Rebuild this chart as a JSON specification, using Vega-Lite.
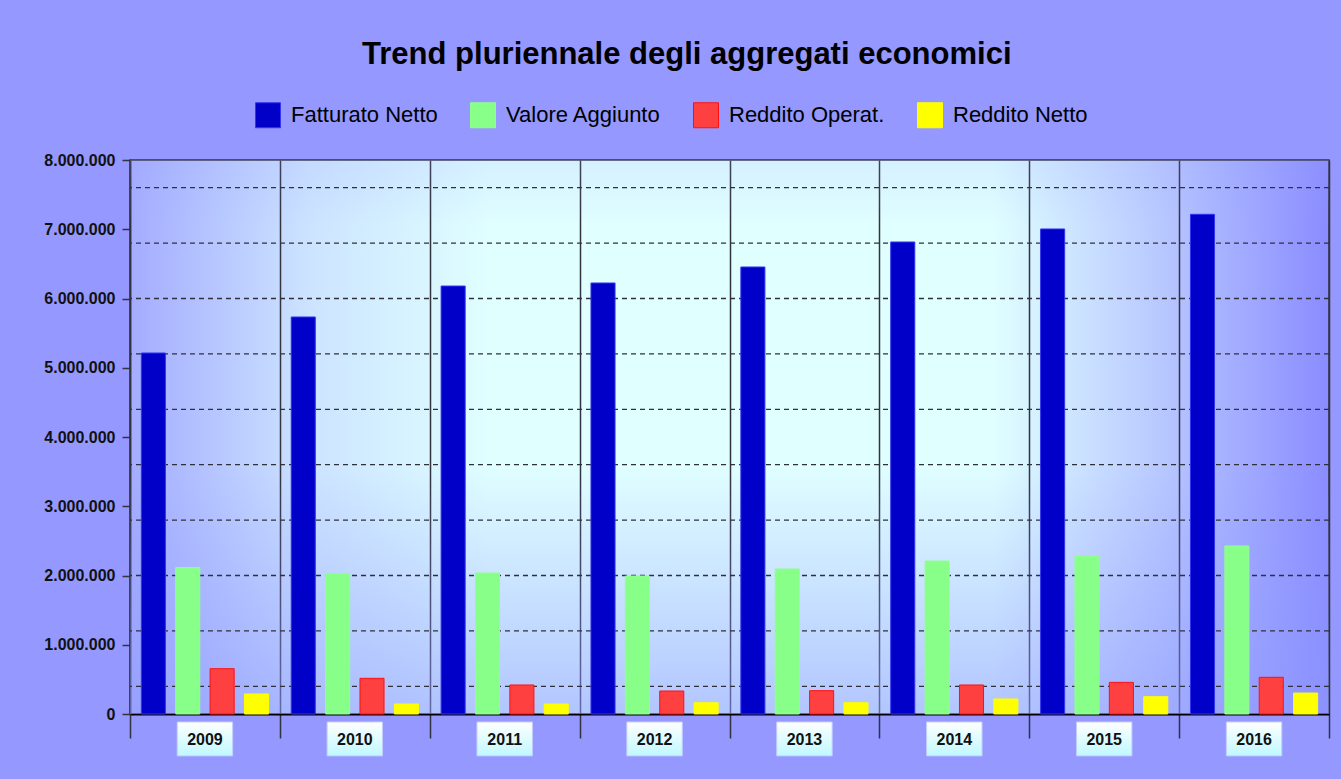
{
  "$schema": "https://vega.github.io/schema/vega-lite/v6.json",
  "width": 1199,
  "height": 554,
  "autosize": {"type": "none"},
  "padding": {"left": 130, "top": 160, "right": 12, "bottom": 65},
  "background": "#9498ff",
  "title": {
    "text": "Trend pluriennale degli aggregati economici",
    "anchor": "middle",
    "frame": "bounds",
    "font": "Liberation Sans",
    "fontSize": 31,
    "fontWeight": "bold",
    "color": "#000000",
    "offset": 31
  },
  "data": {
    "values": [
      {"year": "2009", "series": "Fatturato Netto", "value": 5213000},
      {"year": "2009", "series": "Valore Aggiunto", "value": 2115000},
      {"year": "2009", "series": "Reddito Operat.", "value": 654000},
      {"year": "2009", "series": "Reddito Netto", "value": 289000},
      {"year": "2010", "series": "Fatturato Netto", "value": 5733000},
      {"year": "2010", "series": "Valore Aggiunto", "value": 2030000},
      {"year": "2010", "series": "Reddito Operat.", "value": 515000},
      {"year": "2010", "series": "Reddito Netto", "value": 144000},
      {"year": "2011", "series": "Fatturato Netto", "value": 6180000},
      {"year": "2011", "series": "Valore Aggiunto", "value": 2036000},
      {"year": "2011", "series": "Reddito Operat.", "value": 419000},
      {"year": "2011", "series": "Reddito Netto", "value": 144000},
      {"year": "2012", "series": "Fatturato Netto", "value": 6224000},
      {"year": "2012", "series": "Valore Aggiunto", "value": 1993000},
      {"year": "2012", "series": "Reddito Operat.", "value": 332000},
      {"year": "2012", "series": "Reddito Netto", "value": 163000},
      {"year": "2013", "series": "Fatturato Netto", "value": 6455000},
      {"year": "2013", "series": "Valore Aggiunto", "value": 2094000},
      {"year": "2013", "series": "Reddito Operat.", "value": 337000},
      {"year": "2013", "series": "Reddito Netto", "value": 163000},
      {"year": "2014", "series": "Fatturato Netto", "value": 6816000},
      {"year": "2014", "series": "Valore Aggiunto", "value": 2209000},
      {"year": "2014", "series": "Reddito Operat.", "value": 419000},
      {"year": "2014", "series": "Reddito Netto", "value": 217000},
      {"year": "2015", "series": "Fatturato Netto", "value": 7004000},
      {"year": "2015", "series": "Valore Aggiunto", "value": 2282000},
      {"year": "2015", "series": "Reddito Operat.", "value": 457000},
      {"year": "2015", "series": "Reddito Netto", "value": 250000},
      {"year": "2016", "series": "Fatturato Netto", "value": 7216000},
      {"year": "2016", "series": "Valore Aggiunto", "value": 2426000},
      {"year": "2016", "series": "Reddito Operat.", "value": 530000},
      {"year": "2016", "series": "Reddito Netto", "value": 303000}
    ]
  },
  "layer": [
    {
      "data": {"values": [{"shade": "bottom"}]},
      "mark": {
        "type": "rect",
        "fill": {
          "gradient": "linear",
          "x1": 0, "y1": 0, "x2": 0, "y2": 1,
          "stops": [
            {"offset": 0, "color": "rgba(150,160,255,0.15)"},
            {"offset": 0.12, "color": "rgba(150,160,255,0)"},
            {"offset": 0.55, "color": "rgba(140,150,255,0)"},
            {"offset": 1, "color": "rgba(140,150,255,0.55)"}
          ]
        }
      },
      "encoding": {}
    },
    {
      "data": {
        "values": [
          {"g": 400000}, {"g": 1200000}, {"g": 2000000}, {"g": 2800000}, {"g": 3600000},
          {"g": 4400000}, {"g": 5200000}, {"g": 6000000}, {"g": 6800000}, {"g": 7600000}
        ]
      },
      "mark": {"type": "rule", "color": "#303038", "strokeWidth": 1.3, "strokeDash": [5, 4]},
      "encoding": {
        "y": {"field": "g", "type": "quantitative", "title": null}
      }
    },
    {
      "mark": {"type": "bar", "strokeWidth": 1},
      "encoding": {
        "x": {
          "field": "year",
          "type": "nominal",
          "scale": {"paddingInner": 0, "paddingOuter": 0},
          "axis": {"title": null, "labels": false}
        },
        "xOffset": {
          "field": "series",
          "type": "nominal",
          "sort": ["Fatturato Netto", "Valore Aggiunto", "Reddito Operat.", "Reddito Netto"],
          "scale": {"paddingInner": 0.3, "paddingOuter": 0.33}
        },
        "y": {
          "field": "value",
          "type": "quantitative",
          "scale": {"domain": [0, 8000000], "nice": false, "zero": true},
          "axis": {
            "title": null,
            "values": [0, 1000000, 2000000, 3000000, 4000000, 5000000, 6000000, 7000000, 8000000],
            "format": ",.0f"
          }
        },
        "color": {
          "field": "series",
          "type": "nominal",
          "sort": ["Fatturato Netto", "Valore Aggiunto", "Reddito Operat.", "Reddito Netto"],
          "scale": {
            "domain": ["Fatturato Netto", "Valore Aggiunto", "Reddito Operat.", "Reddito Netto"],
            "range": ["#0000c8", "#88ff88", "#ff4040", "#ffff00"]
          },
          "legend": {"title": null}
        },
        "stroke": {
          "field": "series",
          "type": "nominal",
          "scale": {
            "domain": ["Fatturato Netto", "Valore Aggiunto", "Reddito Operat.", "Reddito Netto"],
            "range": ["#3434f0", "#90ff90", "#ff1010", "#ffff00"]
          },
          "legend": null
        }
      }
    },
    {
      "transform": [{"filter": "datum.series === 'Fatturato Netto'"}],
      "mark": {
        "type": "rect",
        "width": {"band": 0.37},
        "clip": false,
        "fill": {
          "gradient": "linear",
          "x1": 0, "y1": 0, "x2": 0, "y2": 1,
          "stops": [
            {"offset": 0, "color": "#ffffff"},
            {"offset": 1, "color": "#bff8ff"}
          ]
        },
        "stroke": "#c4ccff",
        "strokeWidth": 1
      },
      "encoding": {
        "x": {"field": "year", "type": "nominal"},
        "y": {"datum": -115000},
        "y2": {"datum": -605000}
      }
    },
    {
      "transform": [{"filter": "datum.series === 'Fatturato Netto'"}],
      "mark": {
        "type": "text",
        "clip": false,
        "font": "Liberation Sans",
        "fontSize": 16,
        "fontWeight": "bold",
        "color": "#111111",
        "baseline": "middle",
        "align": "center"
      },
      "encoding": {
        "x": {"field": "year", "type": "nominal"},
        "y": {"datum": -372000},
        "text": {"field": "year"}
      }
    }
  ],
  "config": {
    "locale": {
      "number": {"decimal": ",", "thousands": ".", "grouping": [3], "currency": ["€", ""]}
    },
    "view": {
      "stroke": "#333340",
      "strokeWidth": 1.5,
      "fill": {
        "gradient": "linear",
        "x1": 0, "y1": 0, "x2": 1, "y2": 0,
        "stops": [
          {"offset": 0, "color": "#a4acff"},
          {"offset": 0.15, "color": "#cce4ff"},
          {"offset": 0.3, "color": "#e0ffff"},
          {"offset": 0.72, "color": "#e0ffff"},
          {"offset": 0.86, "color": "#b8c8ff"},
          {"offset": 1, "color": "#8a8cff"}
        ]
      }
    },
    "axisY": {
      "labelFont": "Liberation Sans",
      "labelFontSize": 16,
      "labelFontWeight": "bold",
      "labelColor": "#111111",
      "tickSize": 8,
      "tickColor": "#333340",
      "tickWidth": 1.5,
      "domainColor": "#333340",
      "domainWidth": 1.5,
      "grid": false,
      "labelPadding": 7
    },
    "axisX": {
      "labelAngle": 0,
      "tickSize": 24,
      "tickBand": "extent",
      "tickColor": "#333340",
      "tickWidth": 1.5,
      "grid": true,
      "gridColor": "#333340",
      "gridWidth": 1.5,
      "domainColor": "#000000",
      "domainWidth": 2
    },
    "legend": {
      "orient": "none",
      "legendX": 125,
      "legendY": -58,
      "direction": "horizontal",
      "symbolType": "square",
      "symbolSize": 625,
      "symbolStrokeWidth": 1,
      "labelFont": "Liberation Sans",
      "labelFontSize": 22,
      "labelColor": "#000000",
      "labelOffset": 10,
      "columnPadding": 30,
      "labelLimit": 400
    }
  }
}
